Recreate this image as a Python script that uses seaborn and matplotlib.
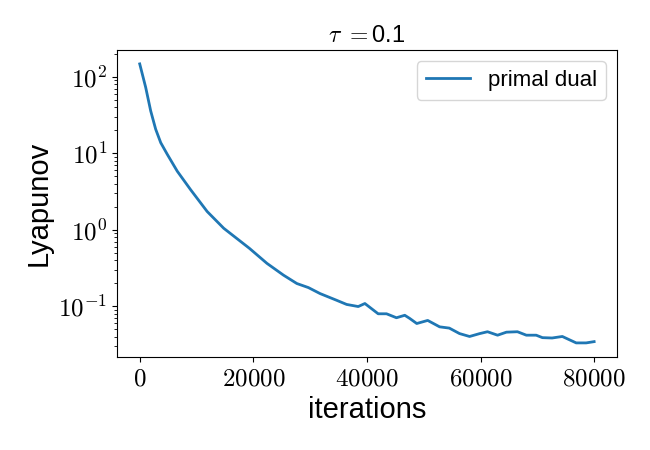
import matplotlib
matplotlib.use("Agg")
import matplotlib.pyplot as plt
import matplotlib.ticker as mticker
import seaborn as sns
import pandas as pd
import math

iterations = [0, 1050, 1930, 2810, 3700, 4860, 6610, 8950, 11870, 14790, 19300,
              22400, 25310, 27660, 29700, 31750, 34680, 36430, 38470, 39640,
              41980, 43450, 45200, 46660, 47530, 48770, 50700, 52800, 54500,
              56300, 58070, 59820, 61230, 63000, 64560, 66500, 68070, 69800,
              70900, 72600, 74400, 76840, 78600, 80000]
lyapunov = [148, 73, 36, 20.7, 13.8, 9.7, 5.85, 3.36, 1.74, 1.05, 0.575,
            0.365, 0.256, 0.199, 0.176, 0.147, 0.120, 0.106, 0.0995, 0.109,
            0.080, 0.080, 0.071, 0.0765, 0.0696, 0.0597, 0.0655, 0.054, 0.052,
            0.0441, 0.0404, 0.044, 0.0466, 0.042, 0.046, 0.0466, 0.042, 0.042,
            0.039, 0.0386, 0.0404, 0.0333, 0.0333, 0.0346]
series_name = "primal dual"
title_text = r"$\tau$ $=$0.1"

df = pd.DataFrame({"iterations": iterations, "Lyapunov": lyapunov})

plt.rcParams["mathtext.fontset"] = "cm"
plt.rcParams["font.family"] = ["Liberation Sans", "DejaVu Sans"]

fig = plt.figure(figsize=(6.5, 4.5), dpi=100)
ax = fig.add_axes([0.18, 0.207, 0.769, 0.682])
sns.lineplot(data=df, x="iterations", y="Lyapunov", ax=ax, color="#1f77b4",
             linewidth=2, label=series_name)
ax.set_yscale("log")
ax.yaxis.set_major_locator(mticker.LogLocator(base=10))
ax.yaxis.set_minor_locator(mticker.LogLocator(base=10, subs=[2, 3, 4, 5, 6, 7, 8, 9], numticks=20))
ax.yaxis.set_minor_formatter(mticker.NullFormatter())
ax.yaxis.set_major_formatter(mticker.FuncFormatter(
    lambda v, p: f"$10^{{{int(round(math.log10(v)))}}}$"))
ax.xaxis.set_major_locator(mticker.MultipleLocator(20000))
ax.xaxis.set_major_formatter(mticker.FuncFormatter(lambda v, p: f"${int(v)}$"))
ax.tick_params(axis="both", which="major", labelsize=18, length=3.5)
ax.tick_params(axis="y", which="minor", length=2.5, width=0.6, left=True)
ax.set_xlabel("iterations", fontsize=21)
ax.set_ylabel("Lyapunov", fontsize=21)
ax.set_title(title_text, fontsize=17)
ax.legend(loc="upper right", fontsize=16)
fig.savefig("out.png", dpi=100)
